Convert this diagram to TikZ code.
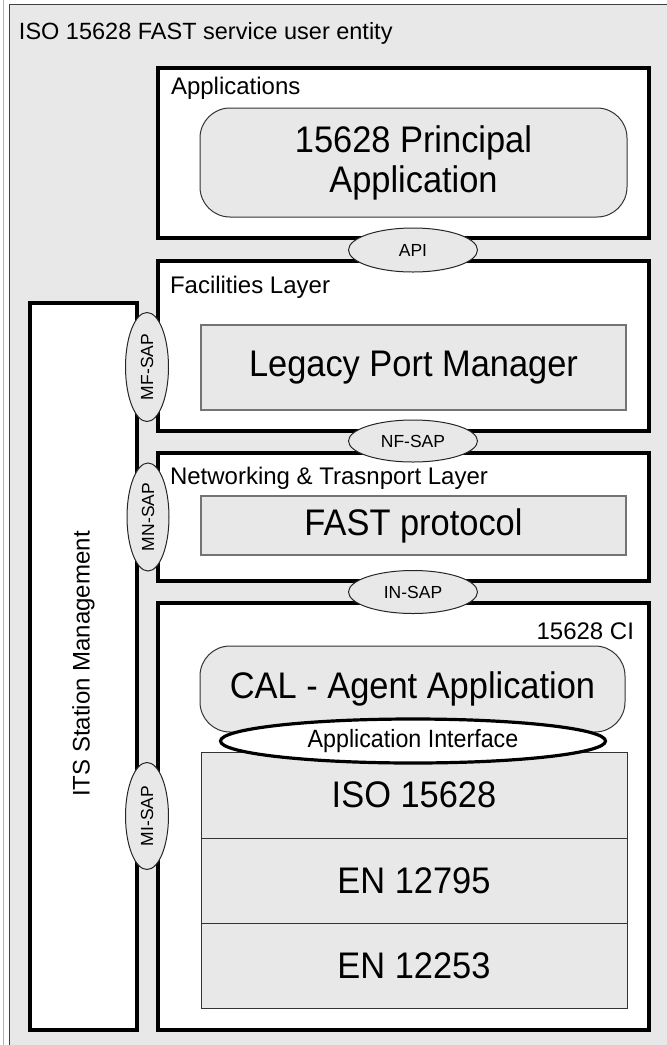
\documentclass[tikz,border=0pt]{standalone}
\usepackage{fontspec}
\setmainfont{Liberation Sans}
\newfontfamily\condfont{Liberation Sans}[FakeStretch=0.93]
\usetikzlibrary{shapes.geometric}
\definecolor{lg}{RGB}{232,232,232}
\newcommand{\fsz}[2]{\fontsize{#1pt}{#2pt}\selectfont}
\tikzset{
  every node/.style={inner sep=0pt, outer sep=0pt},
  outerbox/.style={draw=black!75, line width=1pt, fill=lg, rectangle},
  layerbox/.style={draw=black, line width=3.2pt, fill=white, rectangle},
  innerbox/.style={draw=black!55, line width=1.2pt, fill=lg, rectangle},
  stackbox/.style={draw=black!80, line width=1pt, fill=lg, rectangle},
  roundbox/.style={draw=black!80, line width=1pt, fill=lg, rectangle, rounded corners=30pt},
  sap/.style={draw=black!85, line width=1pt, fill=lg, ellipse},
  ifell/.style={draw=black, line width=3.2pt, fill=white, ellipse},
  lbl/.style={font=\fsz{24}{28}, anchor=west},
  big/.style={font=\condfont\fsz{37}{40}, align=center},
  saptxt/.style={font=\fsz{17.5}{20}},
}
\begin{document}
\begin{tikzpicture}[x=1pt,y=-1pt]
\useasboundingbox (0,0) rectangle (667,1045);
\clip (0,0) rectangle (667,1045);
\fill[white] (0,0) rectangle (667,1045);
\draw[black!30, line width=0.8pt] (3,0) -- (3,1045);
% outer entity
\node[outerbox, minimum width=691pt, minimum height=1096pt] (outer) at (354.5,552) {};
\node[lbl, anchor=west, font=\fsz{23.5}{28}] (title) at (19,33) {ISO 15628 FAST service user entity};
% layer boxes
\node[layerbox, minimum width=491pt, minimum height=170pt] (apps) at (403.5,153) {};
\node[layerbox, minimum width=491pt, minimum height=170pt] (fac) at (403.5,346) {};
\node[layerbox, minimum width=491pt, minimum height=128pt] (net) at (403.5,517) {};
\node[layerbox, minimum width=491pt, minimum height=427pt] (ci) at (403.5,816.5) {};
\node[layerbox, minimum width=107pt, minimum height=727pt] (its) at (83.5,666.5) {};
% labels
\node[lbl] (appslbl) at (171,88) {Applications};
\node[lbl] (faclbl) at (170,287) {Facilities Layer};
\node[lbl] (netlbl) at (170,478) {Networking \& Trasnport Layer};
\node[lbl, anchor=east] (cilbl) at (634,631) {15628 CI};
\node[font=\fsz{24}{28}, rotate=90] (itslbl) at (83.5,664) {ITS Station Management};
% inner boxes
\node[roundbox, minimum width=427pt, minimum height=109pt, big] (principal) at (413.5,162.5) {15628 Principal\\Application};
\node[innerbox, minimum width=425pt, minimum height=85pt, big] (legacy) at (413.5,367.5) {Legacy Port Manager};
\node[innerbox, minimum width=425pt, minimum height=59pt, big] (fast) at (413.5,525.5) {FAST protocol};
\node[roundbox, minimum width=425pt, minimum height=86pt, big] (cal) at (412.5,689) {CAL - Agent Application};
\node[stackbox, minimum width=426pt, minimum height=86pt, big] (iso) at (414,795) {ISO 15628};
\node[stackbox, minimum width=426pt, minimum height=85pt, big] (en1) at (414,880.5) {EN 12795};
\node[stackbox, minimum width=426pt, minimum height=85pt, big] (en2) at (414,965.5) {EN 12253};
\node[ifell, minimum width=385pt, minimum height=44pt, font=\condfont\fsz{25}{28}] (appif) at (413,741) {Application Interface};
% SAP ellipses
\node[sap, minimum width=129pt, minimum height=44pt, saptxt] (api) at (413,250) {API};
\node[sap, minimum width=129pt, minimum height=42pt, saptxt] (nfsap) at (413,441) {NF-SAP};
\node[sap, minimum width=129pt, minimum height=43pt, saptxt] (insap) at (413,592) {IN-SAP};
\node[sap, minimum width=43pt, minimum height=109pt] (mfsap) at (147,367) {};
\node[saptxt, rotate=90] (mfsaptxt) at (mfsap.center) {MF-SAP};
\node[sap, minimum width=42pt, minimum height=108pt] (mnsap) at (148,517) {};
\node[saptxt, rotate=90] (mnsaptxt) at (mnsap.center) {MN-SAP};
\node[sap, minimum width=43pt, minimum height=107pt] (misap) at (147,816) {};
\node[saptxt, rotate=90] (misaptxt) at (misap.center) {MI-SAP};
\end{tikzpicture}
\end{document}
